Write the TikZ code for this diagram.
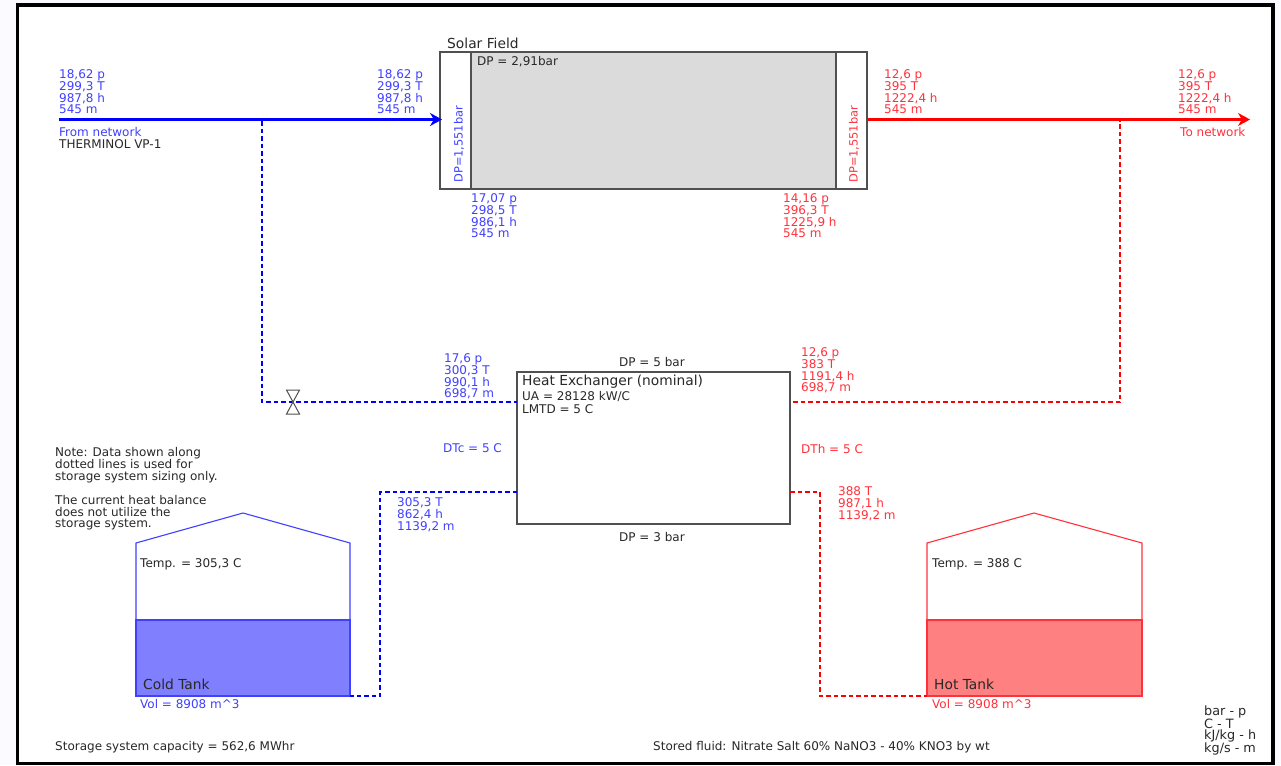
\documentclass[tikz,border=0pt]{standalone}
\usepackage{fontspec}
\setmainfont{DejaVu Sans}
\usetikzlibrary{calc,arrows.meta}

\definecolor{coldtxt}{RGB}{64,64,255}
\definecolor{hottxt}{RGB}{255,50,60}
\definecolor{coldfill}{RGB}{128,128,255}
\definecolor{hotfill}{RGB}{255,128,128}
\definecolor{boxgray}{RGB}{80,80,80}
\definecolor{txtgray}{RGB}{40,40,40}

\tikzset{
    lbl/.style={anchor=north west, inner sep=0pt, yshift=-0.8pt, align=left, text=txtgray, font=\fontsize{12}{11.6}\selectfont},
    coldlbl/.style={lbl, text=coldtxt},
    hotlbl/.style={lbl, text=hottxt},
    namelbl/.style={lbl, font=\fontsize{13.8}{14}\selectfont},
    boxpart/.style={draw=boxgray, line width=1.1pt, inner sep=0pt, outer sep=0pt, anchor=north west},
    mainline/.style={line width=2.4pt, -{Stealth[length=12pt,width=13pt]}},
    dashline/.style={line width=2pt, dash pattern=on 4.5pt off 3pt},
}

\begin{document}
\begin{tikzpicture}[x=1pt, y=-1pt]

    % --- Frame ---
    \fill[white!98!blue] (0,0) rectangle (1281,765);
    \useasboundingbox (0,0) rectangle (1281,765);
    \draw[fill=white, line width=3.5pt] (17.5,5) rectangle (1273,763.5);

    % --- Solar field ---
    \node[boxpart, minimum width=427pt, minimum height=137pt] (field) at (440,52) {};
    \node[boxpart, fill=black!14, minimum width=365pt, minimum height=137pt] (fieldcore) at (471,52) {};
    \node[namelbl] (fieldname) at (447,37.5) {Solar Field};
    \node[lbl] (fielddp) at (477,55) {DP = 2,91bar};
    \node[coldlbl, font=\fontsize{11.4}{12}\selectfont, rotate=90, anchor=west] (dpin) at (459,182) {DP=1,551bar};
    \node[hotlbl, font=\fontsize{11.4}{12}\selectfont, rotate=90, anchor=west] (dpout) at (854,182) {DP=1,551bar};

    % --- Heat exchanger ---
    \node[boxpart, minimum width=273pt, minimum height=152pt] (hx) at (517,372) {};
    \node[namelbl] (hxname) at (522,374) {Heat Exchanger (nominal)};
    \node[lbl, font=\fontsize{12}{13}\selectfont] (hxdata) at (522,390) {UA = 28128 kW/C\\LMTD = 5 C};
    \node[lbl] (hxdptop) at (619,356) {DP = 5 bar};
    \node[lbl] (hxdpbot) at (619,531) {DP = 3 bar};
    \node[coldlbl] (dtc) at (443,443) {DTc = 5 C};
    \node[hotlbl] (dth) at (801,443) {DTh = 5 C};

    % --- Tanks ---
    \draw[coldtxt, line width=1.1pt] (136,696) -- (136,543) -- (243,513) -- (350,543) -- (350,696);
    \node[boxpart, draw=coldtxt, fill=coldfill, minimum width=214pt, minimum height=76pt] (coldliq) at (136,620) {};
    \node[namelbl] (coldname) at (143,678) {Cold Tank};
    \node[lbl] (coldtemp) at (140,557.5) {Temp. = 305,3 C};
    \node[coldlbl] (coldvol) at (140,698) {Vol = 8908 m\textasciicircum 3};

    \draw[hottxt, line width=1.1pt] (927,696) -- (927,543) -- (1034,513) -- (1142,543) -- (1142,696);
    \node[boxpart, draw=hottxt, fill=hotfill, minimum width=215pt, minimum height=76pt] (hotliq) at (927,620) {};
    \node[namelbl] (hotname) at (934,678) {Hot Tank};
    \node[lbl] (hottemp) at (932,557.5) {Temp. = 388 C};
    \node[hotlbl] (hotvol) at (932,698) {Vol = 8908 m\textasciicircum 3};

    % --- Lines ---
    \coordinate (netin) at (59,119.5);
    \coordinate (netout) at (1250,119.5);
    \coordinate (coldtee) at (262,121);
    \coordinate (hottee) at (1120,121);
    \draw[mainline, blue] (netin) -- ($(field.west |- netin)+(2,0)$);
    \draw[mainline, red] (field.east |- netout) -- (netout);

    \draw[dashline, blue] (coldtee) -- (262,402) -- (hx.west |- 0,402);
    \draw[dashline, red] (793,402) -- (1120,402) -- (hottee);
    \draw[dashline, blue] (hx.west |- 0,492) -- (380,492) -- (380,696) -- (coldliq.south east);
    \draw[dashline, red] (hx.east |- 0,492) -- (820,492) -- (820,696) -- (hotliq.south west);

    % valve
    \coordinate (valve) at (293,402);
    \draw[boxgray, line width=1pt] (valve) -- ++(-6.5,-12) -- ++(13,0) -- cycle;
    \draw[boxgray, line width=1pt] (valve) -- ++(-6.5,12) -- ++(13,0) -- cycle;

    % --- Stream data ---
    \node[coldlbl] (s1) at (59,69) {18,62 p\\299,3 T\\987,8 h\\545 m};
    \node[coldlbl] (s2) at (377,69) {18,62 p\\299,3 T\\987,8 h\\545 m};
    \node[coldlbl] (s3) at (471,193) {17,07 p\\298,5 T\\986,1 h\\545 m};
    \node[hotlbl] (s4) at (783,193) {14,16 p\\396,3 T\\1225,9 h\\545 m};
    \node[hotlbl] (s5) at (884,69) {12,6 p\\395 T\\1222,4 h\\545 m};
    \node[hotlbl] (s6) at (1178,69) {12,6 p\\395 T\\1222,4 h\\545 m};
    \node[coldlbl] (s7) at (444,353) {17,6 p\\300,3 T\\990,1 h\\698,7 m};
    \node[hotlbl] (s8) at (801,347) {12,6 p\\383 T\\1191,4 h\\698,7 m};
    \node[coldlbl] (s9) at (397,497) {305,3 T\\862,4 h\\1139,2 m};
    \node[hotlbl] (s10) at (838,486) {388 T\\987,1 h\\1139,2 m};

    \node[coldlbl] (fromnet) at (59,126) {From network};
    \node[lbl] (fluid) at (59,139) {THERMINOL VP-1};
    \node[hotlbl] (tonet) at (1180,126) {To network};

    % --- Notes ---
    \node[lbl] (note) at (55,446) {Note: Data shown along\\dotted lines is used for\\storage system sizing only.\\[11.6pt]The current heat balance\\does not utilize the\\storage system.};
    \node[lbl] (capacity) at (55,740) {Storage system capacity = 562,6 MWhr};
    \node[lbl] (stored) at (653,740) {Stored fluid: Nitrate Salt 60\% NaNO3 - 40\% KNO3 by wt};
    \node[lbl, font=\fontsize{12.8}{10.5}\selectfont] (units) at (1204,705) {bar - p\\C - T\\kJ/kg - h\\kg/s - m};

\end{tikzpicture}
\end{document}
